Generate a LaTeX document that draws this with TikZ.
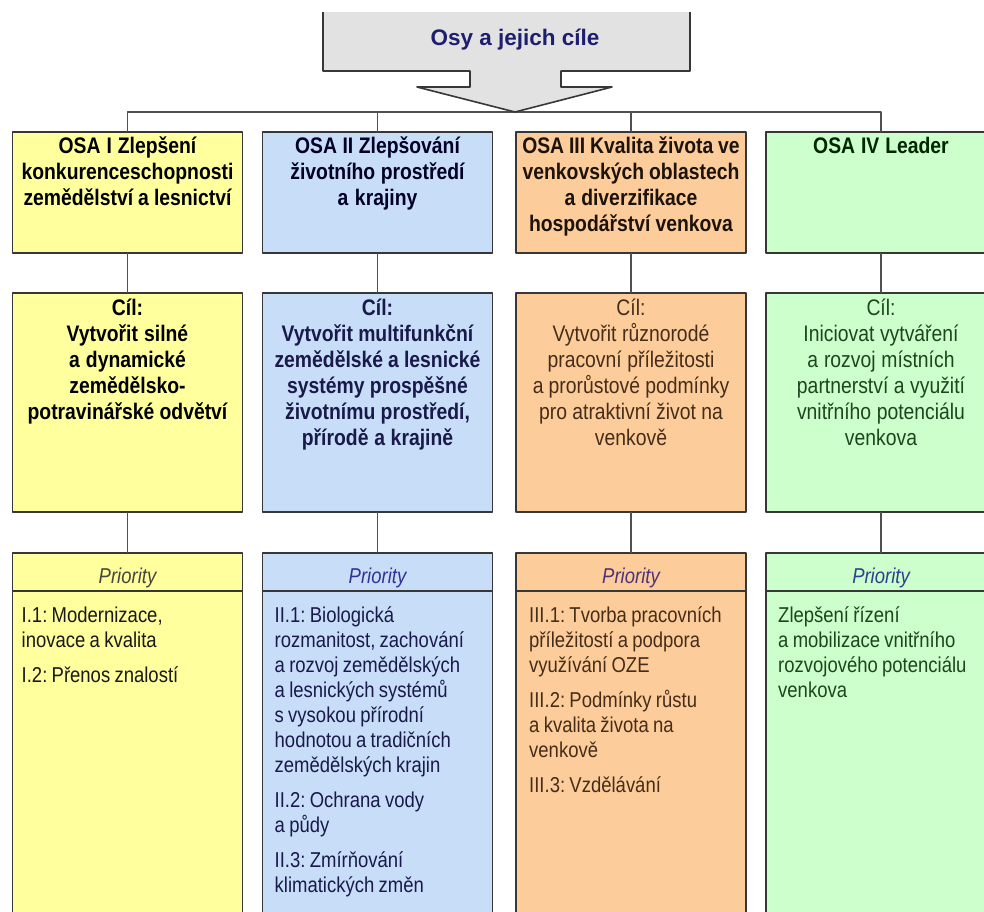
\documentclass[tikz,border=0pt]{standalone}
\usepackage{fontspec}
\setmainfont{Liberation Sans}
\newfontfamily\narrowsans[FakeStretch=0.86]{Liberation Sans}
\usetikzlibrary{positioning}
\definecolor{osayel}{RGB}{255,255,158}
\definecolor{osablu}{RGB}{200,222,248}
\definecolor{osaora}{RGB}{252,204,154}
\definecolor{osagrn}{RGB}{204,255,204}
\definecolor{arrgray}{RGB}{226,226,226}
\definecolor{edgegray}{RGB}{55,55,55}
\definecolor{linegray}{RGB}{80,80,80}
\definecolor{titlenavy}{RGB}{30,30,110}
\definecolor{txtblu}{RGB}{25,25,75}
\definecolor{txtora}{RGB}{70,45,25}
\definecolor{txtgrn}{RGB}{30,70,30}
\definecolor{pryel}{RGB}{70,70,60}
\definecolor{prblu}{RGB}{50,50,150}
\definecolor{prora}{RGB}{80,50,120}
\definecolor{prgrn}{RGB}{45,65,140}
\tikzset{
  osabox/.style={draw=edgegray, line width=1.6pt, minimum width=230, inner sep=0pt, outer sep=0pt},
  conn/.style={draw=linegray, line width=1.5pt},
  tightspace/.style={execute at begin node={\frenchspacing\spaceskip=0.2em plus 0.05em\relax}},
  hdtext/.style={tightspace, anchor=base, text width=250pt, align=center, inner sep=0pt,
    font=\narrowsans\bfseries\fontsize{22.5}{26}\selectfont},
  ciltext/.style={tightspace, anchor=base, text width=250pt, align=center, inner sep=0pt,
    font=\narrowsans\fontsize{22.5}{26}\selectfont},
  prihead/.style={osabox, minimum height=38, text height=22pt, text depth=0pt,
    font=\narrowsans\itshape\fontsize{21.5}{25}\selectfont},
  pritext/.style={tightspace, anchor=base west, text width=215pt, align=left, inner sep=0pt,
    font=\narrowsans\fontsize{21.5}{25}\selectfont}
}
\begin{document}
\begin{tikzpicture}[x=1pt,y=-1pt,line join=round]
\useasboundingbox (0,0) rectangle (984,911);
\clip (0,0) rectangle (984,911);
\fill[white] (0,0) rectangle (984,911);
\coordinate (tip) at (515,112);
% osy
\node[osabox, fill=osayel, minimum height=121] (osa1) at (127.5,192.5) {};
\node[osabox, fill=osablu, minimum height=121] (osa2) at (377.5,192.5) {};
\node[osabox, fill=osaora, minimum height=121] (osa3) at (631,192.5) {};
\node[osabox, fill=osagrn, minimum height=121] (osa4) at (881,192.5) {};
\node[hdtext] (osa1t) at ([yshift=-21pt]osa1.north) {OSA I Zlepšení\\konkurenceschopnosti\\zemědělství a lesnictví};
\node[hdtext, text=black!85!blue] (osa2t) at ([yshift=-21pt]osa2.north) {OSA II Zlepšování\\životního prostředí\\a krajiny};
\node[hdtext, text=black!85!brown] (osa3t) at ([yshift=-21pt]osa3.north) {OSA III Kvalita života ve\\venkovských oblastech\\a diverzifikace\\hospodářství venkova};
\node[hdtext, text=black!85!green] (osa4t) at ([yshift=-21pt]osa4.north) {OSA IV Leader};
% cile
\node[osabox, fill=osayel, minimum height=219, below=40pt of osa1] (cil1) {};
\node[osabox, fill=osablu, minimum height=219, below=40pt of osa2] (cil2) {};
\node[osabox, fill=osaora, minimum height=219, below=40pt of osa3] (cil3) {};
\node[osabox, fill=osagrn, minimum height=219, below=40pt of osa4] (cil4) {};
\node[ciltext, font=\narrowsans\bfseries\fontsize{22.5}{26}\selectfont] (cil1t) at ([yshift=-22pt]cil1.north) {Cíl:\\Vytvořit silné\\a dynamické\\zemědělsko-\\potravinářské odvětví};
\node[ciltext, text=txtblu, font=\narrowsans\bfseries\fontsize{22.5}{26}\selectfont] (cil2t) at ([yshift=-22pt]cil2.north) {Cíl:\\Vytvořit multifunkční\\zemědělské a lesnické\\systémy prospěšné\\životnímu prostředí,\\přírodě a krajině};
\node[ciltext, text=txtora] (cil3t) at ([yshift=-22pt]cil3.north) {Cíl:\\Vytvořit různorodé\\pracovní příležitosti\\a prorůstové podmínky\\pro atraktivní život na\\venkově};
\node[ciltext, text=txtgrn] (cil4t) at ([yshift=-22pt]cil4.north) {Cíl:\\Iniciovat vytváření\\a rozvoj místních\\partnerství a využití\\vnitřního potenciálu\\venkova};
% priority
\node[prihead, fill=osayel, text=pryel, below=41pt of cil1] (pri1) {Priority};
\node[prihead, fill=osablu, text=prblu, below=41pt of cil2] (pri2) {Priority};
\node[prihead, fill=osaora, text=prora, below=41pt of cil3] (pri3) {Priority};
\node[prihead, fill=osagrn, text=prgrn, below=41pt of cil4] (pri4) {Priority};
\node[osabox, fill=osayel, minimum height=349, below=0pt of pri1] (body1) {};
\node[osabox, fill=osablu, minimum height=349, below=0pt of pri2] (body2) {};
\node[osabox, fill=osaora, minimum height=349, below=0pt of pri3] (body3) {};
\node[osabox, fill=osagrn, minimum height=349, below=0pt of pri4] (body4) {};
\node[pritext, text=black!90] (body1t) at ([xshift=9pt,yshift=-31pt]body1.north west) {I.1: Modernizace,\\inovace a kvalita\\[10pt]I.2: Přenos znalostí};
\node[pritext, text=txtblu] (body2t) at ([xshift=12pt,yshift=-31pt]body2.north west) {II.1: Biologická\\rozmanitost, zachování\\a rozvoj zemědělských\\a lesnických systémů\\s vysokou přírodní\\hodnotou a tradičních\\zemědělských krajin\\[10pt]II.2: Ochrana vody\\a půdy\\[10pt]II.3: Zmírňování\\klimatických změn};
\node[pritext, text=txtora] (body3t) at ([xshift=13pt,yshift=-31pt]body3.north west) {III.1: Tvorba pracovních\\příležitostí a podpora\\využívání OZE\\[10pt]III.2: Podmínky růstu\\a kvalita života na\\venkově\\[10pt]III.3: Vzdělávání};
\node[pritext, text=txtgrn] (body4t) at ([xshift=12pt,yshift=-31pt]body4.north west) {Zlepšení řízení\\a mobilizace vnitřního\\rozvojového potenciálu\\venkova};
\foreach \i in {1,...,4}{
  \draw[conn] (osa\i) -- (cil\i);
  \draw[conn] (cil\i) -- (pri\i);
}
\draw[conn] (osa1.north) |- (tip) -| (osa4.north);
\draw[conn] (osa2.north) -- (osa2.north |- tip);
\draw[conn] (osa3.north) -- (osa3.north |- tip);
% sipka
\filldraw[fill=arrgray, draw=edgegray, line width=1.6pt] (323,12) -- (323,71) -- (470,71) -- (470,87) -- (417,87) -- (tip) -- (612,87) -- (561,87) -- (561,71) -- (690,71) -- (690,12);
\node[anchor=base, text=titlenavy, font=\bfseries\fontsize{22.5}{26}\selectfont] (title) at (515,45) {Osy a jejich cíle};
\end{tikzpicture}
\end{document}
